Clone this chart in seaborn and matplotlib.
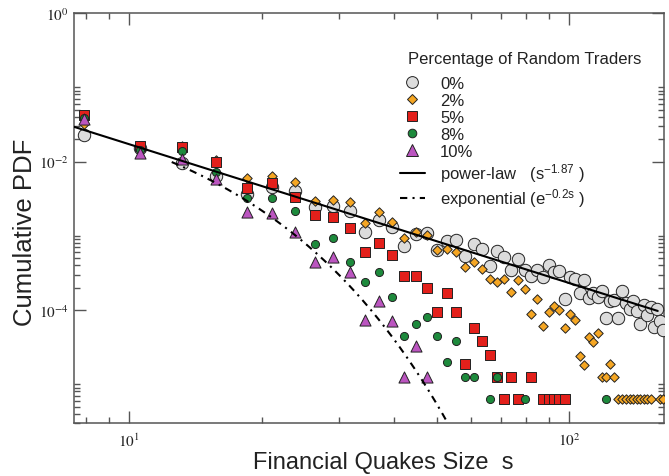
import numpy as np
import pandas as pd
import matplotlib
matplotlib.use("Agg")
import matplotlib.pyplot as plt
import seaborn as sns
from matplotlib.lines import Line2D
from matplotlib.ticker import FixedLocator, LogLocator, FuncFormatter, NullFormatter
from matplotlib.font_manager import FontProperties

# --- values (quake size s, cumulative PDF) ---
s_0 = [7.9, 10.6, 13.2, 15.8, 18.5, 21.1, 23.8, 26.4, 29.0, 31.7, 34.3, 37.0, 39.6,
       42.2, 44.9, 47.5, 50.2, 52.8, 55.4, 58.1, 60.7, 63.4, 66.0, 68.6, 71.3, 73.9,
       76.6, 79.2, 81.8, 84.5, 87.1, 89.8, 92.4, 95.0, 97.7, 100.3, 103.0, 105.6,
       108.2, 110.9, 113.5, 116.2, 118.8, 121.4, 124.1, 126.7, 129.4, 132.0, 134.6,
       137.3, 139.9, 142.6, 145.2, 147.8, 150.5, 153.1, 155.8, 158.4, 161.0, 163.7]
p_0 = [0.0228, 0.0152, 0.00946, 0.00644, 0.00365, 0.00454, 0.00404, 0.00242, 0.00254,
       0.00213, 0.00111, 0.00163, 0.0013, 7.2e-4, 1.06e-3, 1.08e-3, 6.5e-4, 8.4e-4,
       8.8e-4, 5.4e-4, 7.8e-4, 6.6e-4, 3.9e-4, 6.2e-4, 5.2e-4, 3.5e-4, 4.8e-4, 3.5e-4,
       2.9e-4, 3.5e-4, 2.8e-4, 4.0e-4, 3.3e-4, 3.35e-4, 1.41e-4, 2.8e-4, 2.6e-4, 1.7e-4,
       2.5e-4, 1.47e-4, 1.67e-4, 1.48e-4, 1.83e-4, 7.9e-5, 1.32e-4, 1.36e-4, 7.7e-5,
       1.8e-4, 1.24e-4, 1.03e-4, 1.31e-4, 9.7e-5, 6.4e-5, 1.17e-4, 8.6e-5, 1.11e-4,
       5.9e-5, 1.03e-4, 7.1e-5, 5.3e-5]

s_2 = [7.9, 10.6, 13.2, 15.8, 18.5, 21.1, 23.8, 26.4, 29.0, 31.7, 34.3, 37.0, 39.6,
       42.2, 44.9, 47.5, 50.2, 52.8, 55.4, 58.1, 60.7, 63.4, 66.0, 68.6, 71.3, 73.9,
       76.6, 79.2, 81.8, 84.5, 87.1, 89.8, 92.4, 95.0, 97.7, 100.3, 103.0, 105.6,
       108.2, 110.9, 113.5, 116.2, 118.8, 121.4, 124.1, 126.7, 129.4, 132.0, 134.6,
       137.3, 139.9, 142.6, 145.2, 147.8, 150.5, 153.1, 161.0, 163.7]
p_2 = [0.032, 0.0147, 0.0162, 0.0105, 0.00594, 0.00644, 0.00525, 0.00296, 0.00303,
       0.00282, 0.00149, 0.00207, 0.00155, 9.2e-4, 1.13e-3, 1.04e-3, 6.5e-4, 6.6e-4,
       6.0e-4, 3.8e-4, 4.5e-4, 3.6e-4, 2.6e-4, 2.4e-4, 2.6e-4, 1.75e-4, 2.5e-4, 1.9e-4,
       8.8e-5, 1.41e-4, 6.1e-5, 9.4e-5, 1.13e-4, 1.0e-4, 5.7e-5, 8.8e-5, 7.3e-5, 2.4e-5,
       1.8e-5, 4.3e-5, 3.7e-5, 4.9e-5, 1.26e-5, 1.26e-5, 1.9e-5, 1.26e-5, 6.3e-6, 6.3e-6,
       6.3e-6, 6.3e-6, 6.3e-6, 6.3e-6, 6.3e-6, 6.3e-6, 6.3e-6, 6.3e-6, 6.3e-6, 6.3e-6]

s_5 = [7.9, 10.6, 13.2, 15.8, 18.5, 21.1, 23.8, 26.4, 29.0, 31.7, 34.3, 37.0, 39.6,
       42.2, 44.9, 47.5, 50.2, 52.8, 55.4, 58.1, 60.7, 63.4, 66.0, 68.6, 71.3, 73.9,
       76.6, 81.8, 87.1, 89.8, 92.4, 95.0, 97.7]
p_5 = [0.0423, 0.0163, 0.0158, 0.00975, 0.00436, 0.00509, 0.0033, 0.0019, 0.00181,
       0.00127, 5.98e-4, 7.9e-4, 5.5e-4, 2.84e-4, 2.84e-4, 1.98e-4, 9.5e-5, 1.68e-4,
       9.5e-5, 1.9e-5, 5.7e-5, 3.8e-5, 2.5e-5, 1.26e-5, 6.3e-6, 1.26e-5, 6.3e-6,
       1.26e-5, 6.3e-6, 6.3e-6, 6.3e-6, 6.3e-6, 6.3e-6]

s_8 = [7.9, 10.6, 13.2, 15.8, 18.5, 21.1, 23.8, 26.4, 29.0, 31.7, 34.3, 37.0, 39.6,
       42.2, 44.9, 47.5, 50.2, 52.8, 55.4, 58.1, 60.7, 66.0, 68.6, 79.2, 121.4]
p_8 = [0.039, 0.0145, 0.0137, 0.0073, 0.00319, 0.00322, 0.00217, 7.75e-4, 9.24e-4,
       4.47e-4, 2.36e-4, 3.28e-4, 1.5e-4, 4.5e-5, 6.5e-5, 8.0e-5, 4.5e-5, 1.98e-5,
       3.86e-5, 1.26e-5, 1.26e-5, 6.3e-6, 1.26e-5, 6.3e-6, 6.3e-6]

s_10 = [7.9, 10.6, 13.2, 15.8, 18.5, 21.1, 23.8, 26.4, 29.0, 31.7, 34.3, 37.0, 39.6,
        42.2, 44.9, 47.5]
p_10 = [0.0373, 0.0129, 0.0108, 0.0058, 0.00211, 0.002, 0.00111, 4.47e-4, 5.22e-4,
        3.28e-4, 7.4e-5, 1.33e-4, 7.2e-5, 1.26e-5, 3.3e-5, 1.26e-5]

# fitted curves shown in the legend
POWER_AMP = 1.27
POWER_EXP = -1.87
EXP_AMP = 0.12
EXP_RATE = 0.2

sns.set_style("ticks")
plt.rcParams['font.family'] = ['Liberation Sans', 'DejaVu Sans']
plt.rcParams['mathtext.fontset'] = 'stix'
plt.rcParams['mathtext.rm'] = 'Liberation Sans'
plt.rcParams['mathtext.it'] = 'Liberation Sans:italic'
plt.rcParams['mathtext.bf'] = 'Liberation Sans:bold'

fig = plt.figure(figsize=(6.69, 4.77), dpi=100)
ax = fig.add_axes([0.110, 0.111, 0.882, 0.8595])
ax.set_xscale('log')
ax.set_yscale('log')

edge = "#222222"
series = [
    ("0%", s_0, p_0, "o", 80, "#dcdcdc", 8.5),
    ("2%", s_2, p_2, "D", 23, "#f5a623", 5.5),
    ("5%", s_5, p_5, "s", 46, "#e3201b", 7.0),
    ("8%", s_8, p_8, "o", 34, "#1d8a3c", 6.2),
    ("10%", s_10, p_10, "^", 64, "#bb55c0", 8.5),
]
handles = []
for label, xs, ys, mk, size, col, leg_ms in series:
    df = pd.DataFrame({"s": xs, "p": ys})
    sns.scatterplot(data=df, x="s", y="p", marker=mk, s=size, color=col,
                    edgecolor=edge, linewidth=0.7, ax=ax, zorder=3, legend=False)
    handles.append(Line2D([], [], ls="none", marker=mk, markersize=leg_ms,
                          markerfacecolor=col, markeredgecolor=edge,
                          markeredgewidth=0.7, label=label))

# power-law and exponential guides
s_pow = np.geomspace(7.48, 159, 100)
ax.plot(s_pow, POWER_AMP * s_pow ** POWER_EXP, color="black", lw=1.5, zorder=4)
s_exp = np.linspace(12.5, 60, 200)
dashdot = (0, (3.5, 2.5, 1, 2.5))
ax.plot(s_exp, EXP_AMP * np.exp(-EXP_RATE * s_exp), color="black", lw=1.5,
        linestyle=dashdot, zorder=4)
handles.append(Line2D([], [], color="black", lw=1.5,
                      label="power-law   (s$^{-1.87}$ )"))
handles.append(Line2D([], [], color="black", lw=1.5, linestyle=dashdot,
                      label=r"exponential (e$^{-0.2\mathrm{s}}$ )"))

ax.set_xlim(7.48, 164)
ax.set_ylim(3.0e-6, 1.0)

# axis ticks in the xmgrace style
ax.xaxis.set_major_locator(FixedLocator([10, 100]))
ax.xaxis.set_minor_locator(LogLocator(base=10, subs=np.arange(2, 10), numticks=20))
ax.yaxis.set_major_locator(FixedLocator([1e-6, 1e-4, 1e-2, 1.0]))
ax.yaxis.set_minor_locator(FixedLocator([k * 10.0 ** e for e in (-6, -4, -2) for k in range(2, 11)]))
fmt = FuncFormatter(lambda v, pos: r'$10^{%d}$' % int(round(np.log10(v))))
ax.xaxis.set_major_formatter(fmt)
ax.yaxis.set_major_formatter(fmt)
ax.xaxis.set_minor_formatter(NullFormatter())
ax.yaxis.set_minor_formatter(NullFormatter())

spine_col = "#555555"
ax.tick_params(which="both", direction="in", top=True, right=True,
               color=spine_col, width=1.0, labelsize=11, labelcolor="#222222")
ax.tick_params(which="major", length=8.5)
ax.tick_params(which="minor", length=4.5)
ax.tick_params(axis="x", which="major", pad=6)
for sp in ax.spines.values():
    sp.set_color(spine_col)
    sp.set_linewidth(1.1)

ax.set_xlabel("Financial Quakes Size  s", fontsize=17, color="#222222")
ax.set_ylabel("Cumulative PDF", fontsize=18.5, color="#222222")
ax.xaxis.set_label_coords(0.524, -0.068)
ax.yaxis.set_label_coords(-0.062, 0.468)

# legend title placed on its own, as in the original
ax.text(0.567, 0.888, "Percentage of Random Traders", transform=ax.transAxes,
        fontsize=12, va="center", ha="left", color="#222222")
leg_font = FontProperties(family="Liberation Sans", size=12, math_fontfamily="custom")
leg = ax.legend(handles=handles, loc="upper left", bbox_to_anchor=(0.553, 0.846),
                frameon=False, prop=leg_font, borderpad=0, labelspacing=0.12,
                handlelength=1.5, handletextpad=0.9, borderaxespad=0)
for t in leg.get_texts():
    t.set_color("#222222")

plt.savefig("out.png", dpi=100)
